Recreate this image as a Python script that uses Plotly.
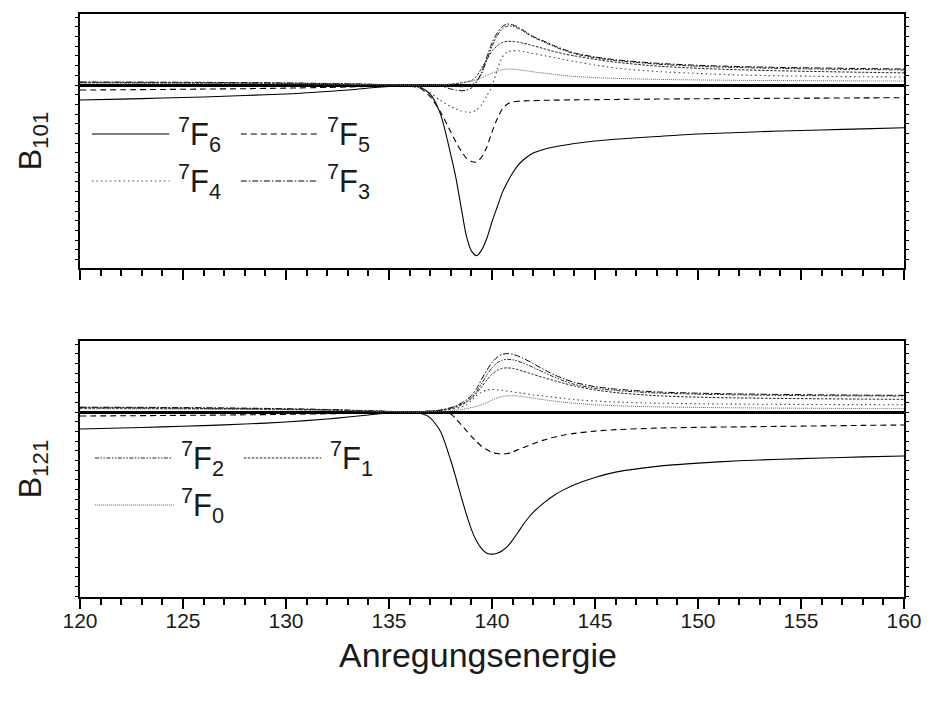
import plotly.graph_objects as go

# Photon energy grid (eV) shared by all curves
energy = [120, 122, 124, 126, 128, 130, 132, 133, 134, 135, 135.5, 136, 136.5, 137, 137.5,
          138, 138.25, 138.5, 138.75, 139, 139.25, 139.5, 139.75, 140, 140.25, 140.5,
          140.75, 141, 141.25, 141.5, 141.75, 142, 142.5, 143, 143.5, 144, 145, 146,
          148, 150, 152, 154, 156, 158, 160]

# B_101 parameter for the 7F_J final states
b101_f6 = [-0.155, -0.146, -0.134, -0.124, -0.108, -0.093, -0.067, -0.052, -0.031, -0.015,
           -0.01, -0.008, -0.02, -0.093, -0.30, -0.72, -0.96, -1.26, -1.55, -1.71,
           -1.76, -1.70, -1.58, -1.41, -1.26, -1.11, -1.00, -0.907, -0.832, -0.776,
           -0.734, -0.702, -0.665, -0.64, -0.621, -0.604, -0.578, -0.56, -0.531, -0.505,
           -0.49, -0.474, -0.464, -0.452, -0.441]
b101_f5 = [-0.052, -0.049, -0.046, -0.042, -0.038, -0.032, -0.025, -0.02, -0.014, -0.01,
           -0.009, -0.012, -0.031, -0.119, -0.278, -0.485, -0.588, -0.68, -0.753, -0.789,
           -0.794, -0.742, -0.639, -0.485, -0.35, -0.247, -0.196, -0.175, -0.168, -0.165,
           -0.163, -0.161, -0.158, -0.156, -0.155, -0.153, -0.151, -0.149, -0.145, -0.142,
           -0.139, -0.137, -0.135, -0.133, -0.131]
b101_f4 = [0.026, 0.025, 0.024, 0.022, 0.02, 0.018, 0.013, 0.01, 0.006, 0.002,
           0.0, -0.005, -0.03, -0.082, -0.16, -0.222, -0.247, -0.268, -0.278, -0.281,
           -0.258, -0.201, -0.113, -0.01, 0.155, 0.289, 0.34, 0.353, 0.353, 0.345,
           0.335, 0.325, 0.304, 0.284, 0.263, 0.242, 0.206, 0.175, 0.139, 0.119,
           0.103, 0.095, 0.089, 0.085, 0.082]
b101_f3 = [0.031, 0.03, 0.029, 0.027, 0.025, 0.021, 0.016, 0.012, 0.008, 0.004,
           0.002, 0.0, -0.003, -0.006, -0.01, -0.041, -0.052, -0.059, -0.054, -0.031,
           0.031, 0.134, 0.289, 0.433, 0.536, 0.603, 0.629, 0.621, 0.598, 0.567,
           0.531, 0.5, 0.454, 0.407, 0.366, 0.33, 0.289, 0.26, 0.224, 0.203,
           0.19, 0.181, 0.175, 0.17, 0.165]
b101_f2 = [0.028, 0.027, 0.026, 0.024, 0.022, 0.019, 0.014, 0.011, 0.007, 0.003,
           0.001, 0.0, 0.0, -0.002, -0.005, -0.012, -0.016, -0.018, -0.015, -0.002,
           0.04, 0.12, 0.26, 0.40, 0.51, 0.578, 0.607, 0.605, 0.585, 0.557,
           0.524, 0.493, 0.445, 0.398, 0.357, 0.322, 0.281, 0.252, 0.215, 0.193,
           0.18, 0.171, 0.164, 0.159, 0.155]
b101_f1 = [0.024, 0.023, 0.022, 0.02, 0.018, 0.015, 0.011, 0.008, 0.005, 0.002,
           0.001, 0.0, 0.0, 0.0, 0.002, 0.008, 0.014, 0.022, 0.032, 0.046,
           0.09, 0.175, 0.26, 0.35, 0.405, 0.438, 0.45, 0.45, 0.443, 0.432,
           0.42, 0.405, 0.376, 0.345, 0.32, 0.3, 0.265, 0.235, 0.195, 0.172,
           0.157, 0.146, 0.138, 0.131, 0.125]
b101_f0 = [0.02, 0.019, 0.018, 0.017, 0.015, 0.013, 0.009, 0.007, 0.004, 0.002,
           0.001, 0.0, 0.0, 0.0, 0.002, 0.008, 0.014, 0.021, 0.03, 0.04,
           0.055, 0.075, 0.1, 0.122, 0.143, 0.157, 0.164, 0.163, 0.158, 0.151,
           0.144, 0.136, 0.123, 0.11, 0.098, 0.088, 0.076, 0.068, 0.058, 0.052,
           0.048, 0.046, 0.044, 0.042, 0.041]

# B_121 parameter for the 7F_J final states
b121_f6 = [-0.175, -0.165, -0.153, -0.14, -0.124, -0.103, -0.072, -0.052, -0.03, -0.01,
           -0.004, -0.002, -0.01, -0.06, -0.2, -0.5, -0.68, -0.87, -1.05, -1.21,
           -1.33, -1.41, -1.455, -1.465, -1.455, -1.43, -1.385, -1.32, -1.245, -1.165,
           -1.095, -1.035, -0.94, -0.86, -0.8, -0.75, -0.675, -0.62, -0.56, -0.527,
           -0.503, -0.487, -0.474, -0.463, -0.454]
b121_f5 = [-0.041, -0.039, -0.036, -0.033, -0.029, -0.024, -0.018, -0.014, -0.01, -0.005,
           -0.003, -0.002, 0.0, 0.0, 0.0, -0.02, -0.07, -0.13, -0.19, -0.25,
           -0.305, -0.355, -0.39, -0.415, -0.428, -0.433, -0.428, -0.412, -0.39, -0.368,
           -0.348, -0.328, -0.29, -0.26, -0.237, -0.22, -0.197, -0.182, -0.166, -0.158,
           -0.153, -0.148, -0.143, -0.138, -0.134]
b121_f4 = [0.038, 0.037, 0.035, 0.033, 0.03, 0.025, 0.019, 0.015, 0.01, 0.005,
           0.003, 0.002, 0.003, 0.008, 0.015, 0.028, 0.038, 0.05, 0.075, 0.12,
           0.17, 0.205, 0.225, 0.232, 0.23, 0.223, 0.215, 0.208, 0.2, 0.193,
           0.185, 0.177, 0.165, 0.152, 0.14, 0.128, 0.113, 0.103, 0.091, 0.085,
           0.081, 0.079, 0.077, 0.076, 0.075]
b121_f3 = [0.05, 0.049, 0.047, 0.044, 0.04, 0.034, 0.026, 0.02, 0.014, 0.007,
           0.004, 0.002, 0.004, 0.01, 0.02, 0.045, 0.065, 0.09, 0.125, 0.17,
           0.24, 0.34, 0.43, 0.51, 0.565, 0.595, 0.602, 0.595, 0.578, 0.555,
           0.528, 0.5, 0.44, 0.385, 0.342, 0.305, 0.262, 0.236, 0.207, 0.194,
           0.186, 0.181, 0.177, 0.174, 0.172]
b121_f2 = [0.046, 0.045, 0.043, 0.04, 0.036, 0.031, 0.024, 0.018, 0.012, 0.006,
           0.003, 0.002, 0.004, 0.009, 0.018, 0.04, 0.058, 0.08, 0.11, 0.15,
           0.21, 0.295, 0.38, 0.455, 0.508, 0.535, 0.543, 0.538, 0.525, 0.506,
           0.484, 0.46, 0.41, 0.362, 0.32, 0.285, 0.245, 0.222, 0.196, 0.184,
           0.177, 0.172, 0.168, 0.166, 0.164]
b121_f1 = [0.042, 0.041, 0.039, 0.036, 0.033, 0.028, 0.021, 0.016, 0.011, 0.005,
           0.003, 0.002, 0.003, 0.008, 0.016, 0.035, 0.05, 0.07, 0.1, 0.14,
           0.195, 0.26, 0.33, 0.39, 0.43, 0.45, 0.455, 0.45, 0.438, 0.422,
           0.405, 0.388, 0.355, 0.325, 0.295, 0.268, 0.228, 0.2, 0.168, 0.153,
           0.145, 0.14, 0.136, 0.133, 0.131]
b121_f0 = [0.033, 0.032, 0.031, 0.029, 0.026, 0.022, 0.017, 0.013, 0.009, 0.004,
           0.002, 0.001, 0.001, 0.003, 0.006, 0.012, 0.018, 0.025, 0.034, 0.045,
           0.058, 0.075, 0.098, 0.123, 0.145, 0.16, 0.167, 0.168, 0.165, 0.158,
           0.15, 0.142, 0.127, 0.113, 0.1, 0.09, 0.075, 0.065, 0.053, 0.047,
           0.043, 0.04, 0.038, 0.036, 0.035]

state_labels = ["<sup>7</sup>F<sub>6</sub>", "<sup>7</sup>F<sub>5</sub>",
                "<sup>7</sup>F<sub>4</sub>", "<sup>7</sup>F<sub>3</sub>",
                "<sup>7</sup>F<sub>2</sub>", "<sup>7</sup>F<sub>1</sub>",
                "<sup>7</sup>F<sub>0</sub>"]

# line style per final state (F6 ... F0)
styles = [
    dict(color="black", width=1.1, dash="solid"),
    dict(color="black", width=1.1, dash="6px,4px"),
    dict(color="#444444", width=1.1, dash="1.5px,3px"),
    dict(color="black", width=1.0, dash="6px,2px,1.5px,2px"),
    dict(color="#222222", width=1.0, dash="4px,1.5px,1.5px,1.5px,1.5px,1.5px"),
    dict(color="#222222", width=1.0, dash="2.5px,1.5px"),
    dict(color="#666666", width=1.0, dash="1px,1px"),
]

top_series = [b101_f6, b101_f5, b101_f4, b101_f3, b101_f2, b101_f1, b101_f0]
bottom_series = [b121_f6, b121_f5, b121_f4, b121_f3, b121_f2, b121_f1, b121_f0]

fig = go.Figure()
for lbl, st, ys in zip(state_labels, styles, top_series):
    fig.add_trace(go.Scatter(x=energy, y=ys, mode="lines", name=lbl,
                             line=dict(st, shape="spline", smoothing=0.7),
                             xaxis="x", yaxis="y", showlegend=False))
for lbl, st, ys in zip(state_labels, styles, bottom_series):
    fig.add_trace(go.Scatter(x=energy, y=ys, mode="lines", name=lbl,
                             line=dict(st, shape="spline", smoothing=0.7),
                             xaxis="x2", yaxis="y2", showlegend=False))

# plot-area geometry in pixels (for the legend keys)
W, H = 934, 702
ML, MR, MT, MB = 80, 24, 14, 105
PW, PH = W - ML - MR, H - MT - MB


def px(xp):
    return (xp - ML) / PW


def py(yp):
    return (H - MB - yp) / PH


# legend keys: (state index, line x0, line x1, row y, text x)
keys = [
    (0, 92, 170, 134, 177),
    (1, 242, 320, 134, 327),
    (2, 92, 170, 181, 177),
    (3, 242, 320, 181, 327),
    (4, 95, 172, 458, 180),
    (5, 245, 323, 458, 330),
    (6, 95, 175, 505, 180),
]
shapes = []
annotations = []
for idx, x0, x1, yy, tx in keys:
    st = styles[idx]
    shapes.append(dict(type="line", xref="paper", yref="paper",
                       x0=px(x0), x1=px(x1), y0=py(yy), y1=py(yy),
                       line=dict(color=st["color"], width=st["width"], dash=st["dash"])))
    annotations.append(dict(xref="paper", yref="paper", x=px(tx), y=py(yy),
                            xanchor="left", yanchor="middle", showarrow=False,
                            text=state_labels[idx], font=dict(size=31, color="#1a1a1a")))

# x-axis title
annotations.append(dict(xref="paper", yref="paper", x=px(481), y=py(655),
                        xanchor="center", yanchor="middle", showarrow=False,
                        text="Anregungsenergie", font=dict(size=34, color="#1a1a1a")))

axis_common = dict(showline=True, linewidth=2, linecolor="black", mirror=True,
                   showgrid=False, zeroline=False)
xcommon = dict(axis_common, range=[120, 160], dtick=5, ticks="outside", ticklen=10,
               tickwidth=2, tickcolor="black",
               minor=dict(dtick=1, ticks="outside", ticklen=6, tickwidth=1.5, tickcolor="black"))
ycommon = dict(showline=True, linewidth=2, linecolor="black", mirror="allticks",
               showgrid=False, zeroline=True, zerolinewidth=3, zerolinecolor="black",
               ticks="outside", ticklen=3, tickwidth=1, tickcolor="black", dtick=0.1,
               showticklabels=False)

fig.update_layout(
    width=W, height=H,
    margin=dict(l=ML, r=MR, t=MT, b=MB),
    paper_bgcolor="white", plot_bgcolor="white",
    font=dict(family="Arial, Liberation Sans, sans-serif", color="#1a1a1a"),
    xaxis=dict(xcommon, domain=[0, 1], anchor="y", matches="x2", showticklabels=False),
    yaxis=dict(ycommon, domain=[0.5643, 1], range=[-1.887, 0.732],
               title=dict(text="B<sub>101</sub>", font=dict(size=32), standoff=24)),
    xaxis2=dict(xcommon, domain=[0, 1], anchor="y2", showticklabels=True,
                tickfont=dict(size=21), ticklabelstandoff=-6),
    yaxis2=dict(ycommon, domain=[0, 0.4391], range=[-1.907, 0.732],
                title=dict(text="B<sub>121</sub>", font=dict(size=32), standoff=24)),
    shapes=shapes,
    annotations=annotations,
)

fig.write_html("out.html")
